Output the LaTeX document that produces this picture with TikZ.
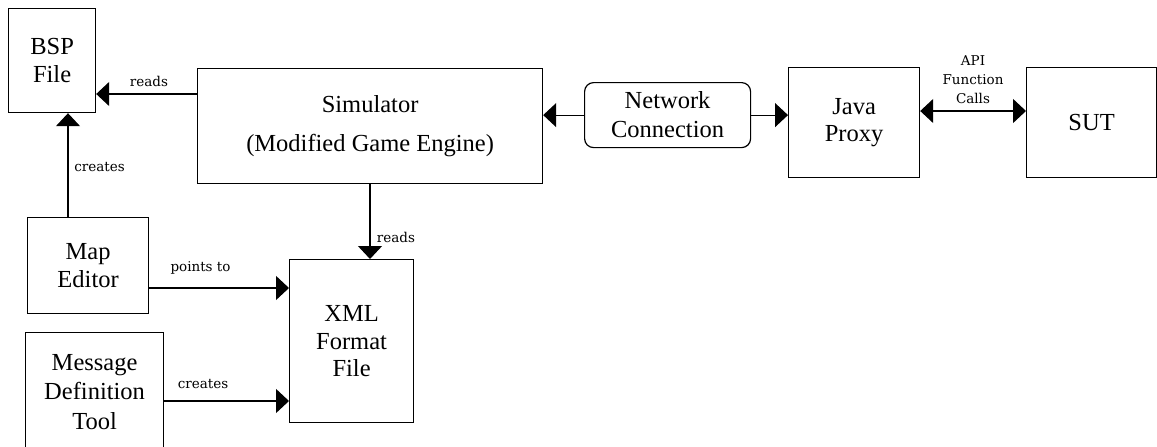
\documentclass[tikz,border=0pt]{standalone}
\usepackage{fontspec}
\setmainfont{Liberation Serif}
\newfontfamily\labelfont{DejaVu Serif}
\usetikzlibrary{arrows.meta,calc}
\tikzset{
  x=1pt, y=-1pt,
  box/.style={draw, line width=1.2pt, anchor=north west, inner sep=0pt,
    align=center, font=\fontsize{24.5}{27.5}\selectfont},
  arr/.style={line width=1.2pt, -{Triangle[length=13pt,width=24pt]}},
  darr/.style={line width=1.2pt, {Triangle[length=13pt,width=24pt]}-{Triangle[length=13pt,width=24pt]}},
  lbl/.style={font=\labelfont\fontsize{13.5}{19}\selectfont, inner sep=0pt, align=center}
}
\begin{document}
\begin{tikzpicture}
\useasboundingbox[fill=white] (0,0) rectangle (1157,447);

% blocks
\node[box, minimum width=87pt, minimum height=104pt] (bsp) at (8,8) {BSP\\File};
\node[box, minimum width=345pt, minimum height=115pt,
      font=\fontsize{24.5}{39}\selectfont] (sim) at (197,68) {Simulator\\(Modified Game Engine)};
\node[box, rounded corners=9pt, minimum width=166pt, minimum height=65pt,
      font=\fontsize{24.5}{29}\selectfont] (net) at (584,82) {Network\\Connection};
\node[box, minimum width=131pt, minimum height=110pt] (java) at (788,67) {\raisebox{-4pt}{Java}\\\raisebox{-4pt}{Proxy}};
\node[box, minimum width=130pt, minimum height=110pt] (sut) at (1026,67) {SUT};
\node[box, minimum width=121pt, minimum height=96pt] (map) at (27,217) {\raisebox{-3pt}{Map}\\\raisebox{-3pt}{Editor}};
\node[box, minimum width=138pt, minimum height=118pt, font=\fontsize{24.5}{29.5}\selectfont] (msg) at (25,332) {Message\\Definition\\Tool};
\node[box, minimum width=124pt, minimum height=163pt] (xml) at (289,259) {XML\\Format\\File};

% connectors
\draw[arr] (sim.west |- 0,94) -- (bsp.east |- 0,94);
\draw[arr] (map.north -| 68,0) -- (bsp.south -| 68,0);
\draw[arr] (net.west) -- (net.west -| sim.east);
\draw[arr] (net.east) -- (net.east -| java.west);
\draw[darr] (java.east |- 0,111) -- (sut.west |- 0,111);
\draw[arr] (sim.south -| 370,0) -- (xml.north -| 370,0);
\draw[arr] (map.east |- 0,288) -- (xml.west |- 0,288);
\draw[arr] (msg.east |- 0,401) -- (xml.west |- 0,401);

% connector labels
\node[lbl] (l1) at (149,81) {reads};
\node[lbl] (l2) at (99.5,167) {creates};
\node[lbl] (l3) at (396,237.5) {reads};
\node[lbl] (l4) at (200.5,268) {points to};
\node[lbl] (l5) at (203,384.5) {creates};
\node[lbl] (l6) at (973,80) {API\\Function\\Calls};
\end{tikzpicture}
\end{document}
